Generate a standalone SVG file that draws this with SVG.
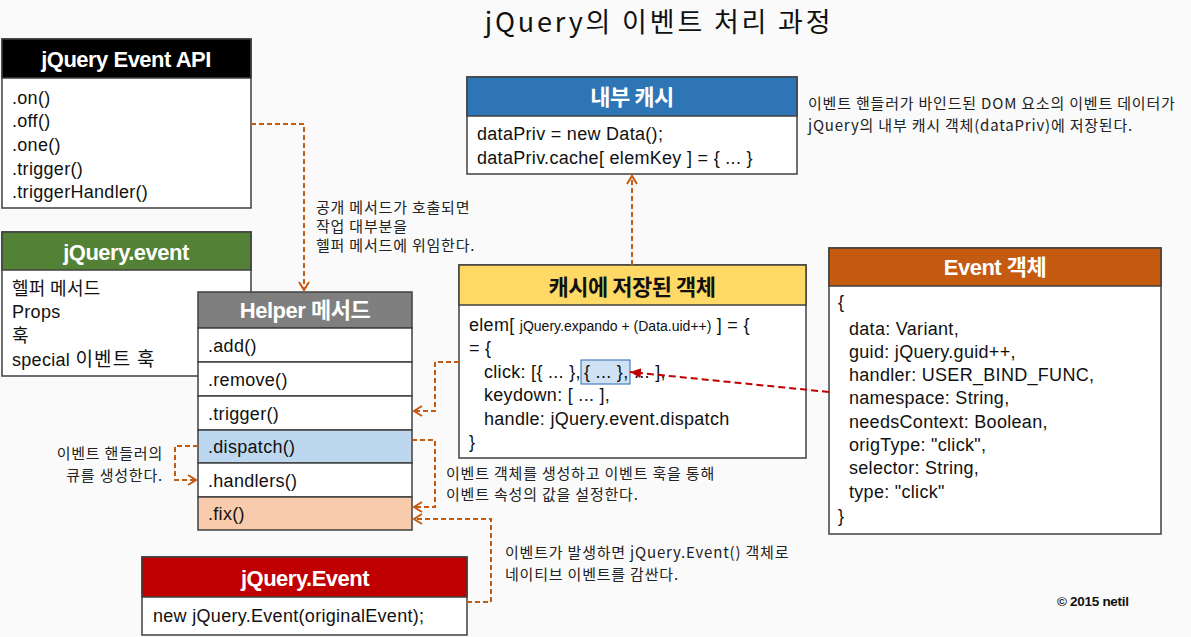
<svg xmlns="http://www.w3.org/2000/svg" width="1191" height="637" viewBox="0 0 1191 637">
<defs>
<style>
text{font-family:"Liberation Sans","Noto Sans CJK KR",sans-serif;fill:#111}
.kr{font-family:"Noto Sans CJK KR","Liberation Sans",sans-serif}
.box{stroke:#404040;stroke-width:1.5}
.body{fill:#fff}
.hd{font-weight:bold;font-size:22px;fill:#fff;text-anchor:middle;letter-spacing:-0.5px}
.t{font-size:18px;letter-spacing:0.3px}
.note{font-family:"Noto Sans CJK KR","Liberation Sans",sans-serif;font-size:15px;letter-spacing:0.8px;fill:#222}
.con{fill:none;stroke:#c55a11;stroke-width:2;stroke-dasharray:5,3}
.red{fill:none;stroke:#c00000;stroke-width:2;stroke-dasharray:7,4}
</style>
<marker id="oa" markerUnits="userSpaceOnUse" markerWidth="14" markerHeight="14" refX="9" refY="6" orient="auto">
<path d="M1,1 L9,6 L1,11" fill="none" stroke="#c55a11" stroke-width="2"/>
</marker>
<marker id="ra" markerUnits="userSpaceOnUse" markerWidth="14" markerHeight="12" refX="11" refY="5" orient="auto">
<path d="M0,0 L11,5 L0,10 Z" fill="#c00000"/>
</marker>
</defs>
<rect width="1191" height="637" fill="#fafafa"/>
<text x="659" y="32" class="kr" font-size="27" letter-spacing="2.8" text-anchor="middle" style="fill:#111">jQuery의 이벤트 처리 과정</text>

<g id="api">
<rect class="box body" x="2" y="39" width="249" height="169"/>
<rect class="box" x="2" y="39" width="249" height="39" fill="#000"/>
<text class="hd" x="126" y="67">jQuery Event API</text>
<text class="t" x="12" y="104">.on()</text>
<text class="t" x="12" y="127">.off()</text>
<text class="t" x="12" y="151">.one()</text>
<text class="t" x="12" y="175">.trigger()</text>
<text class="t" x="12" y="198">.triggerHandler()</text>
</g>

<g id="jqevent">
<rect class="box body" x="2" y="232" width="249" height="144"/>
<rect class="box" x="2" y="232" width="249" height="38" fill="#538135"/>
<text class="hd" x="126" y="260">jQuery.event</text>
<text class="t kr" x="12" y="295" font-size="19" letter-spacing="1.5">헬퍼 메서드</text>
<text class="t" x="12" y="318">Props</text>
<text class="t kr" x="12" y="342" font-size="19">훅</text>
<text class="t" x="12" y="366">special <tspan class="kr" font-size="19" letter-spacing="1.2">이벤트 훅</tspan></text>
</g>

<g id="helper">
<rect class="box" x="198" y="292" width="214" height="36" fill="#7f7f7f"/>
<text class="hd" x="305" y="318">Helper <tspan class="kr">메서드</tspan></text>
<rect class="box body" x="198" y="328" width="214" height="34"/>
<text class="t" x="208" y="352">.add()</text>
<rect class="box body" x="198" y="362" width="214" height="34"/>
<text class="t" x="208" y="386">.remove()</text>
<rect class="box body" x="198" y="396" width="214" height="34"/>
<text class="t" x="208" y="420">.trigger()</text>
<rect class="box" x="198" y="430" width="214" height="33" fill="#bdd7ee"/>
<text class="t" x="208" y="453">.dispatch()</text>
<rect class="box body" x="198" y="463" width="214" height="34"/>
<text class="t" x="208" y="487">.handlers()</text>
<rect class="box" x="198" y="497" width="214" height="33" fill="#f8cbad"/>
<text class="t" x="208" y="520">.fix()</text>
</g>

<g id="cache">
<rect class="box body" x="467" y="77" width="330" height="97"/>
<rect class="box" x="467" y="77" width="330" height="39" fill="#2e75b6"/>
<text class="hd kr" x="632" y="105" font-size="24" letter-spacing="1">내부 캐시</text>
<text class="t" x="477" y="140">dataPriv = new Data();</text>
<text class="t" x="477" y="164">dataPriv.cache[ elemKey ] = { ... }</text>
</g>

<g id="stored">
<rect class="box body" x="459" y="265" width="347" height="193"/>
<rect class="box" x="459" y="265" width="347" height="40" fill="#ffd966"/>
<text class="hd kr" x="632" y="295" font-size="27" letter-spacing="0.5" style="fill:#111">캐시에 저장된 객체</text>
<rect x="581" y="360" width="49" height="24" fill="#cfe2f3" stroke="#4a7ebb" stroke-width="1.2"/>
<text class="t" x="469" y="331">elem[ <tspan font-size="14" letter-spacing="0">jQuery.expando + (Data.uid++)</tspan> ] = {</text>
<text class="t" x="469" y="354">= {</text>
<text class="t" x="484" y="378">click: [{ ... },</text>
<text class="t" x="584" y="378">{ ... },</text>
<text class="t" x="634" y="378">... ],</text>
<text class="t" x="484" y="401">keydown: [ ... ],</text>
<text class="t" x="484" y="425">handle: jQuery.event.dispatch</text>
<text class="t" x="469" y="448">}</text>
</g>

<g id="eventobj">
<rect class="box body" x="829" y="248" width="332" height="286"/>
<rect class="box" x="829" y="248" width="332" height="38" fill="#c55a11"/>
<text class="hd" x="995" y="275">Event <tspan class="kr">객체</tspan></text>
<text class="t" x="838" y="308">{</text>
<text class="t" x="849" y="335">data: Variant,</text>
<text class="t" x="849" y="358">guid: jQuery.guid++,</text>
<text class="t" x="849" y="381">handler: USER_BIND_FUNC,</text>
<text class="t" x="849" y="404">namespace: String,</text>
<text class="t" x="849" y="428">needsContext: Boolean,</text>
<text class="t" x="849" y="451">origType: "click",</text>
<text class="t" x="849" y="474">selector: String,</text>
<text class="t" x="849" y="498">type: "click"</text>
<text class="t" x="838" y="522">}</text>
</g>

<g id="jqEventCtor">
<rect class="box body" x="142" y="557" width="325" height="78"/>
<rect class="box" x="142" y="557" width="325" height="40" fill="#c00000"/>
<text class="hd" x="305" y="586">jQuery.Event</text>
<text class="t" x="153" y="622">new jQuery.Event(originalEvent);</text>
</g>

<g id="notes">
<text class="note" x="808" y="109" font-size="14.5" letter-spacing="0.2">이벤트 핸들러가 바인드된 DOM 요소의 이벤트 데이터가</text>
<text class="note" x="808" y="131" font-size="14.5" letter-spacing="0.2">jQuery의 내부 캐시 객체(dataPriv)에 저장된다.</text>
<text class="note" x="316" y="213">공개 메서드가 호출되면</text>
<text class="note" x="316" y="232">작업 대부분을</text>
<text class="note" x="316" y="251">헬퍼 메서드에 위임한다.</text>
<text class="note" x="446" y="479">이벤트 객체를 생성하고 이벤트 훅을 통해</text>
<text class="note" x="446" y="500">이벤트 속성의 값을 설정한다.</text>
<text class="note" x="163" y="459" text-anchor="end">이벤트 핸들러의</text>
<text class="note" x="163" y="481" text-anchor="end">큐를 생성한다.</text>
<text class="note" x="505" y="558">이벤트가 발생하면 jQuery.Event() 객체로</text>
<text class="note" x="505" y="580">네이티브 이벤트를 감싼다.</text>
<text x="1057" y="606" font-size="13.5" font-weight="bold" letter-spacing="-0.3">© 2015 netil</text>
</g>

<g id="connectors">
<path class="con" d="M251,124 H304 V290" marker-end="url(#oa)"/>
<path class="con" d="M632,265 V176" marker-end="url(#oa)"/>
<path class="con" d="M459,362 H435 V411 H414" marker-end="url(#oa)"/>
<path class="con" d="M412,440 H435 V507 H414" marker-end="url(#oa)"/>
<path class="con" d="M467,602 H491 V519 H414" marker-end="url(#oa)"/>
<path class="con" d="M198,446 H175 V480 H196" marker-end="url(#oa)"/>
<path class="red" d="M829,392 L630,372" marker-end="url(#ra)"/>
</g>
</svg>
